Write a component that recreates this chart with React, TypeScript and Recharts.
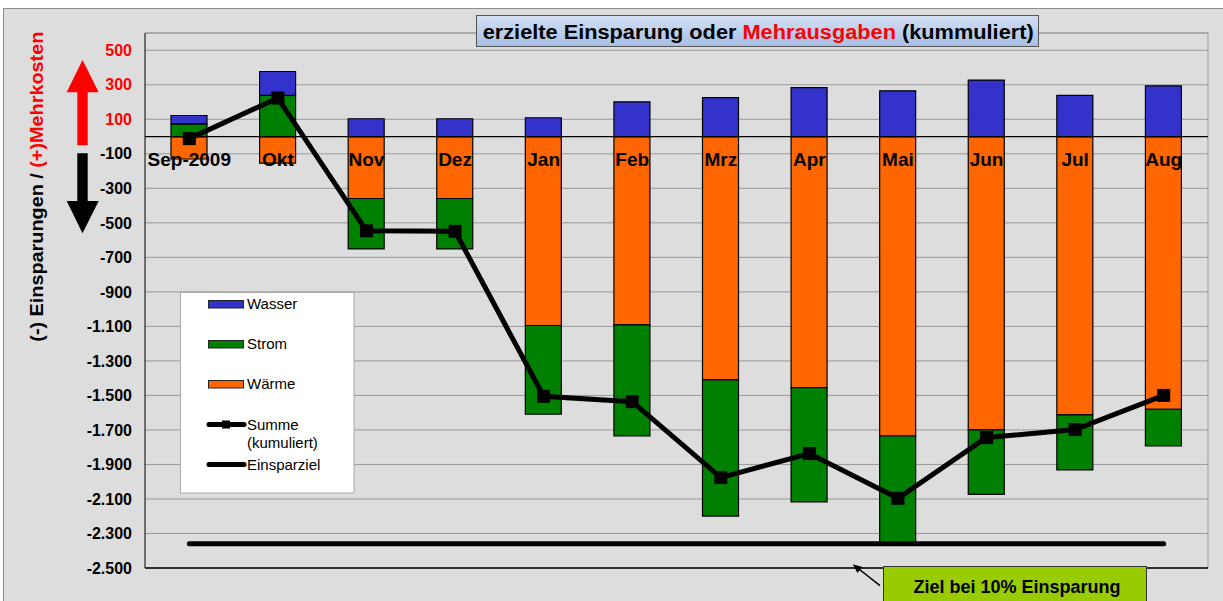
import React from 'react';
import { ComposedChart, Bar, Line, XAxis, YAxis, CartesianGrid, ReferenceLine, LabelList } from 'recharts';

const months = ['Sep-2009', 'Okt', 'Nov', 'Dez', 'Jan', 'Feb', 'Mrz', 'Apr', 'Mai', 'Jun', 'Jul', 'Aug'];
const waerme = [-130, -154, -359, -359, -1095, -1091, -1410, -1455, -1735, -1700, -1613, -1580];
const strom = [74, 238, -292, -292, -514, -644, -789, -662, -626, -373, -319, -213];
const wasser = [48, 139, 103, 103, 109, 201, 225, 283, 265, 327, 238, 294];
const summe = [-12, 223, -546, -549, -1505, -1536, -1976, -1837, -2096, -1744, -1698, -1500];
const einsparziel = [-2360, -2360, -2360, -2360, -2360, -2360, -2360, -2360, -2360, -2360, -2360, -2360];
const yTicks = [500, 300, 100, -100, -300, -500, -700, -900, -1100, -1300, -1500, -1700, -1900, -2100, -2300, -2500];

const legendNames = ['Wasser', 'Strom', 'Wärme', 'Summe', '(kumuliert)', 'Einsparziel'];
const titleParts = ['erzielte Einsparung oder ', 'Mehrausgaben', ' (kummuliert)'];
const yLabelParts = ['(-) Einsparungen / ', '(+)Mehrkosten'];
const noteText = 'Ziel bei 10% Einsparung';

const C_WASSER = '#3333CC';
const C_STROM = '#008000';
const C_WAERME = '#FF6600';
const RED = '#FF0000';
const BG = '#DDDDDD';

const data = months.map((m, i) => ({
  month: m,
  waerme: waerme[i],
  strom: strom[i],
  wasser: wasser[i],
  summe: summe[i],
  ziel: einsparziel[i],
}));

function fmt(v: number): string {
  const s = Math.abs(v).toString().replace(/\B(?=(\d{3})+(?!\d))/g, '.');
  return (v < 0 ? '-' : '') + s;
}

const YTick = (props: any) => {
  const { x, y, payload } = props;
  const v = payload.value as number;
  return (
    <text x={x} y={y} dy="0.355em" textAnchor="end" fontFamily="Arial, 'Liberation Sans', sans-serif" fontWeight="bold" fontSize={16} fill={v > 0 ? RED : '#000'}>
      {fmt(v)}
    </text>
  );
};

const SquareDot = (props: any) => {
  const { cx, cy } = props;
  if (cx == null || cy == null) return null;
  return <rect x={cx - 6.5} y={cy - 6.5} width={13} height={13} fill="#000" />;
};

const MonthLabel = (props: any) => {
  const { x, y, value } = props;
  return (
    <text x={x} y={y + 29} textAnchor="middle" fontFamily="Arial, 'Liberation Sans', sans-serif" fontWeight="bold" fontSize={19} fill="#000">
      {value}
    </text>
  );
};

const font = "Arial, 'Liberation Sans', sans-serif";

export default function App() {
  return (
    <div style={{ position: 'absolute', left: 0, top: 0, width: 1223, height: 601, background: '#fff', overflow: 'hidden' }}>
      <div style={{ position: 'absolute', left: 3, top: 8, width: 1240, height: 620, background: BG, borderLeft: '1.5px solid #8c8c8c', borderTop: '1.5px solid #8c8c8c' }} />
      <div style={{ position: 'absolute', left: 0, top: 0 }}>
        <ComposedChart
          width={1223}
          height={601}
          data={data}
          stackOffset="sign"
          barSize={36}
          margin={{ top: 33, right: 15, bottom: 33, left: 0 }}
        >
          <CartesianGrid
            stroke="#999"
            strokeWidth={1}
            verticalCoordinatesGenerator={(p: any) => (p && p.offset ? [p.offset.left + p.offset.width] : [])}
          />
          <XAxis dataKey="month" hide />
          <YAxis
            type="number"
            domain={[-2500, 600]}
            ticks={yTicks}
            interval={0}
            width={145}
            tickSize={6}
            tickMargin={7}
            tickLine={false}
            axisLine={{ stroke: '#000', strokeWidth: 1 }}
            tick={<YTick />}
            allowDataOverflow
          />
          <ReferenceLine y={600} stroke="#999" strokeWidth={1} />
          <Bar dataKey="waerme" name="Wärme" stackId="s" fill={C_WAERME} stroke="#000" strokeWidth={1.2} isAnimationActive={false} />
          <Bar dataKey="strom" name="Strom" stackId="s" fill={C_STROM} stroke="#000" strokeWidth={1.2} isAnimationActive={false} />
          <Bar dataKey="wasser" name="Wasser" stackId="s" fill={C_WASSER} stroke="#000" strokeWidth={1.2} isAnimationActive={false} />
          <ReferenceLine y={0} stroke="#000" strokeWidth={1.2} />
          <ReferenceLine y={-2500} stroke="#000" strokeWidth={1.5} />
          <Line dataKey="ziel" name="Einsparziel" stroke="#000" strokeWidth={5} strokeLinecap="round" dot={false} activeDot={false} isAnimationActive={false} />
          <Line dataKey="summe" name="Summe (kumuliert)" stroke="#000" strokeWidth={5} dot={<SquareDot />} activeDot={false} isAnimationActive={false} />
          <Line dataKey={() => 0} stroke="none" dot={false} activeDot={false} isAnimationActive={false} legendType="none">
            <LabelList dataKey="month" content={<MonthLabel />} />
          </Line>
        </ComposedChart>
      </div>
      <svg width={1223} height={601} style={{ position: 'absolute', left: 0, top: 0, pointerEvents: 'none' }}>
        <defs>
          <linearGradient id="titleGrad" x1="0" y1="0" x2="0" y2="1">
            <stop offset="0" stopColor="#D4E0F4" />
            <stop offset="1" stopColor="#A6BFE6" />
          </linearGradient>
        </defs>
        {/* title */}
        <rect x={476.5} y={15.5} width={562} height={31} fill="url(#titleGrad)" stroke="#555" strokeWidth={1} />
        <text x={482.7} y={39.3} fontFamily={font} fontWeight="bold" fontSize={19.5} textLength={551} lengthAdjust="spacingAndGlyphs">
          <tspan fill="#000">{titleParts[0]}</tspan>
          <tspan fill={RED}>{titleParts[1]}</tspan>
          <tspan fill="#000">{titleParts[2]}</tspan>
        </text>
        {/* y axis label */}
        <g transform="translate(42.5,186.7) rotate(-90)">
          <text x={0} y={0} textAnchor="middle" fontFamily={font} fontWeight="bold" fontSize={18.5} textLength={310} lengthAdjust="spacingAndGlyphs">
            <tspan fill="#000">{yLabelParts[0]}</tspan>
            <tspan fill={RED}>{yLabelParts[1]}</tspan>
          </text>
        </g>
        {/* arrows */}
        <polygon points="77.3,145.3 87.7,145.3 87.7,92.3 98.7,92.3 82.5,60 66.7,92.3 77.3,92.3" fill={RED} />
        <polygon points="77.3,153.3 87.7,153.3 87.7,201 98.7,201 82.5,233.3 66.7,201 77.3,201" fill="#000" />
        {/* legend */}
        <rect x={180.5} y={292.5} width={173.5} height={200.5} fill="#fff" stroke="#aaa" strokeWidth={1} />
        <rect x={208.5} y={300.5} width={35} height={7.5} fill={C_WASSER} stroke="#222" strokeWidth={1} />
        <text x={247} y={309} fontFamily={font} fontSize={15} fill="#000">{legendNames[0]}</text>
        <rect x={208.5} y={340.5} width={35} height={7.5} fill={C_STROM} stroke="#222" strokeWidth={1} />
        <text x={247} y={349} fontFamily={font} fontSize={15} fill="#000">{legendNames[1]}</text>
        <rect x={208.5} y={380.5} width={35} height={7.5} fill={C_WAERME} stroke="#222" strokeWidth={1} />
        <text x={247} y={389} fontFamily={font} fontSize={15} fill="#000">{legendNames[2]}</text>
        <line x1={209} y1={424.5} x2={244} y2={424.5} stroke="#000" strokeWidth={5} strokeLinecap="round" />
        <rect x={222} y={420.5} width={8} height={8} fill="#000" />
        <text x={247} y={430} fontFamily={font} fontSize={15} fill="#000">{legendNames[3]}</text>
        <text x={247} y={447.5} fontFamily={font} fontSize={15} fill="#000">{legendNames[4]}</text>
        <line x1={209} y1={464.5} x2={244} y2={464.5} stroke="#000" strokeWidth={5} strokeLinecap="round" />
        <text x={247} y={470} fontFamily={font} fontSize={15} fill="#000">{legendNames[5]}</text>
        {/* annotation */}
        <line x1={880} y1={585.7} x2={857} y2={567.5} stroke="#000" strokeWidth={1.5} />
        <polygon points="852.7,564.3 862.5,567 857.5,573" fill="#000" />
        <rect x={883.5} y={566.5} width={263} height={50} fill="#99CC00" stroke="#333" strokeWidth={1} />
        <text x={1017} y={593} textAnchor="middle" fontFamily={font} fontWeight="bold" fontSize={18} fill="#000">{noteText}</text>
      </svg>
    </div>
  );
}
